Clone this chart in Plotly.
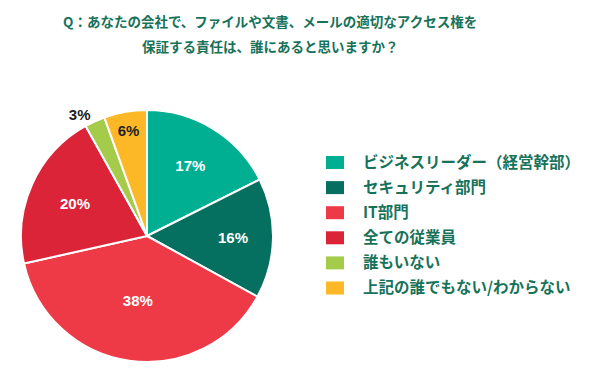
import plotly.graph_objects as go

categories = ["ビジネスリーダー（経営幹部）", "セキュリティ部門", "IT部門", "全ての従業員", "誰もいない", "上記の誰でもない/わからない"]
values = [17.6, 15.4, 38.5, 20.4, 2.6, 5.5]
pct_labels = ["17%", "16%", "38%", "20%", "3%", "6%"]
colors = ["#00AE91", "#067060", "#EE3A47", "#DC2439", "#A5CB4B", "#FDB827"]
title_lines = ["Q：あなたの会社で、ファイルや文書、メールの適切なアクセス権を", "保証する責任は、誰にあると思いますか？"]

W, H = 600, 378
JP = "Noto Sans CJK JP"
GREEN = "#17725A"

fig = go.Figure()
fig.add_trace(go.Pie(
    labels=categories,
    values=values,
    text=["<b>" + t + "</b>" for t in pct_labels],
    textinfo="text",
    sort=False,
    direction="clockwise",
    rotation=0,
    marker=dict(colors=colors, line=dict(color="white", width=2)),
    textposition=["inside", "inside", "inside", "inside", "outside", "inside"],
    insidetextorientation="horizontal",
    textfont=dict(family="Liberation Sans, Arial", size=15,
                  color=["white", "white", "white", "white", "#222222", "#222222"]),
    domain=dict(x=[21 / W, 273 / W], y=[1 - 362 / H, 1 - 110 / H]),
    showlegend=False,
    hoverinfo="label+text",
))

annotations = []
for i, line in enumerate(title_lines):
    annotations.append(dict(
        text="<b>" + line + "</b>", x=270 / W, y=1 - (21 + 25 * i) / H,
        xref="paper", yref="paper", showarrow=False, xanchor="center", yanchor="middle",
        font=dict(family=JP, size=13.5, color=GREEN),
    ))

shapes = []
for i, (cat, col) in enumerate(zip(categories, colors)):
    yc = 162.5 + 25.1 * i
    shapes.append(dict(type="rect", xref="paper", yref="paper",
                       x0=326 / W, x1=344 / W, y0=1 - (yc + 6.5) / H, y1=1 - (yc - 6.5) / H,
                       fillcolor=col, line=dict(width=0)))
    annotations.append(dict(
        text="<b>" + cat + "</b>", x=361 / W, y=1 - (yc - 2) / H,
        xref="paper", yref="paper", showarrow=False, xanchor="left", yanchor="middle",
        font=dict(family=JP, size=15.5, color=GREEN),
    ))

fig.update_layout(
    width=W, height=H,
    margin=dict(l=0, r=0, t=0, b=0),
    paper_bgcolor="white", plot_bgcolor="white",
    annotations=annotations, shapes=shapes,
)
fig.write_html("out.html", config={"displayModeBar": False},
               post_script="document.body.style.margin='0';document.body.style.padding='0';")
